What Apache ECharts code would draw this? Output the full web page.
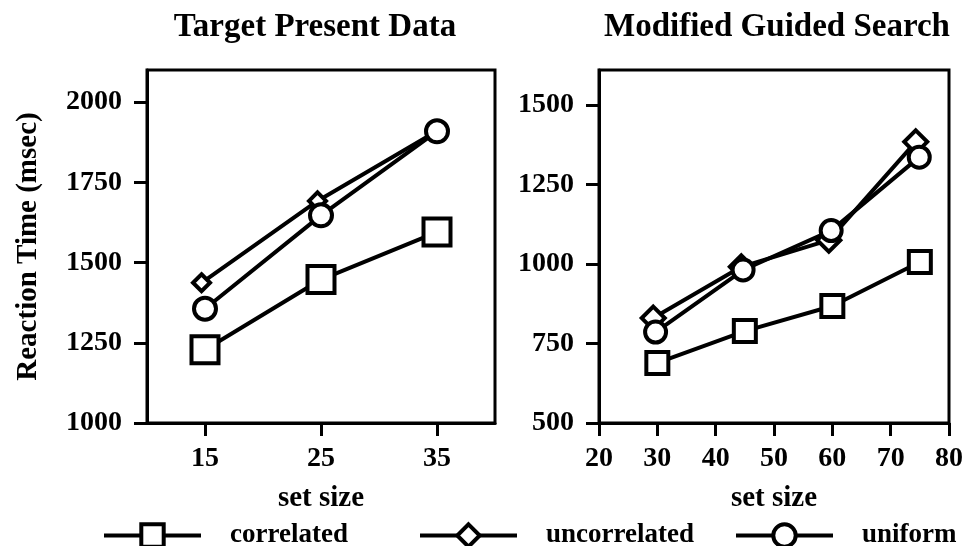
<!DOCTYPE html>
<html>
<head>
<meta charset="utf-8">
<script src="https://cdn.jsdelivr.net/npm/echarts@6/dist/echarts.min.js"></script>
<style>
html,body{margin:0;padding:0;background:#fff;}
#chart{width:966px;height:546px;}
</style>
</head>
<body>
<div id="chart"></div>
<script>
// ---- Data ----
const seriesNames = ['correlated', 'uncorrelated', 'uniform'];

// Left panel: Target Present Data
const leftTicksX = [15, 25, 35];
const leftTicksY = [1000, 1250, 1500, 1750, 2000];
const leftCorrelatedX = [15, 25, 35];
const leftCorrelatedY = [1228, 1447, 1595];
const leftUncorrelatedX = [14.7, 24.7, 35];
const leftUncorrelatedY = [1437, 1692, 1910];
const leftUniformX = [15, 25, 35];
const leftUniformY = [1356, 1647, 1909];

// Right panel: Modified Guided Search
const rightTicksY = [500, 750, 1000, 1250, 1500];
const rightCorrelatedX = [30, 45, 60, 75];
const rightCorrelatedY = [689, 789, 868, 1006];
const rightUncorrelatedX = [29.3, 44.4, 59.4, 74.3];
const rightUncorrelatedY = [830, 991, 1075, 1384];
const rightUniformX = [29.7, 44.7, 59.8, 74.9];
const rightUniformY = [786, 981, 1105, 1336];

const titles = ['Target Present Data', 'Modified Guided Search'];
const xName = 'set size';
const yName = 'Reaction Time (msec)';

// ---- Helpers ----
const FONT = 'Liberation Serif';
const zip = (xs, ys) => xs.map((x, i) => [x, ys[i]]);
const black = '#000';
const plain = v => String(v);

function axisCommon() {
  return {
    axisLine: { show: true, lineStyle: { color: black, width: 3 } },
    axisTick: { show: true, inside: false, length: 13, lineStyle: { color: black, width: 3 } },
    splitLine: { show: false },
    axisLabel: { color: black, fontFamily: FONT, fontWeight: 'bold', fontSize: 28, formatter: plain }
  };
}

function mkX(grid, min, max, opts) {
  const c = axisCommon();
  return Object.assign({
    type: 'value', gridIndex: grid, min: min, max: max,
    name: xName, nameLocation: 'middle', nameGap: 61,
    nameTextStyle: { color: black, fontFamily: FONT, fontWeight: 'bold', fontSize: 29 },
    axisLine: c.axisLine, splitLine: c.splitLine
  }, opts(c));
}

function mkY(grid, min, max, ticks, withName) {
  const c = axisCommon();
  const y = {
    type: 'value', gridIndex: grid, min: min, max: max,
    axisLine: c.axisLine, splitLine: c.splitLine,
    axisTick: Object.assign({}, c.axisTick, { customValues: ticks }),
    axisLabel: Object.assign({}, c.axisLabel, { customValues: ticks, margin: 25 })
  };
  if (withName) {
    y.name = yName;
    y.nameLocation = 'middle';
    y.nameGap = 104;
    y.nameTextStyle = { color: black, fontFamily: FONT, fontWeight: 'bold', fontSize: 29 };
  }
  return y;
}

const symbols = { correlated: 'rect', uncorrelated: 'diamond', uniform: 'circle' };

function mkSeries(name, grid, data, size) {
  return {
    name: name, type: 'line', xAxisIndex: grid, yAxisIndex: grid,
    data: data, symbol: symbols[name], symbolSize: size,
    showAllSymbol: true, animation: false,
    lineStyle: { color: black, width: 4 },
    itemStyle: { color: '#fff', borderColor: black, borderWidth: 4 },
    z: name === 'correlated' ? 3 : 2
  };
}

function mkLegend(name, left) {
  const iconH = 28;
  return {
    data: [name], left: left, top: 536 - iconH / 2, orient: 'horizontal',
    padding: 0,
    itemWidth: 97, itemHeight: iconH,
    lineStyle: { color: black, width: 4 },
    itemStyle: { color: '#fff', borderColor: black, borderWidth: 4 },
    textStyle: { color: black, fontFamily: FONT, fontWeight: 'bold', fontSize: 27, padding: [0, 0, 0, 24] },
    selectedMode: false
  };
}

const chart = echarts.init(document.getElementById('chart'), null, { renderer: 'canvas' });
chart.setOption({
  backgroundColor: '#fff',
  animation: false,
  title: [
    { text: titles[0], left: 310, top: 6, textAlign: 'center',
      textStyle: { color: black, fontFamily: FONT, fontWeight: 'bold', fontSize: 33 } },
    { text: titles[1], left: 772, top: 6, textAlign: 'center',
      textStyle: { color: black, fontFamily: FONT, fontWeight: 'bold', fontSize: 33 } }
  ],
  grid: [
    { left: 147, right: 471, top: 70, bottom: 123, show: true, borderColor: black, borderWidth: 3, backgroundColor: 'transparent' },
    { left: 599, right: 14, top: 70, bottom: 123, show: true, borderColor: black, borderWidth: 3, backgroundColor: 'transparent' }
  ],
  xAxis: [
    mkX(0, 10, 40, c => ({
      axisTick: Object.assign({}, c.axisTick, { customValues: leftTicksX }),
      axisLabel: Object.assign({}, c.axisLabel, { customValues: leftTicksX, margin: 22 })
    })),
    mkX(1, 20, 80, c => ({
      interval: 10,
      axisTick: c.axisTick,
      axisLabel: Object.assign({}, c.axisLabel, { margin: 22, showMinLabel: true, showMaxLabel: true })
    }))
  ],
  yAxis: [
    mkY(0, 1000, 2100, leftTicksY, true),
    mkY(1, 500, 1610, rightTicksY, false)
  ],
  legend: [
    mkLegend('correlated', 102),
    mkLegend('uncorrelated', 418),
    mkLegend('uniform', 734)
  ],
  series: [
    mkSeries('correlated', 0, zip(leftCorrelatedX, leftCorrelatedY), 27),
    mkSeries('uncorrelated', 0, zip(leftUncorrelatedX, leftUncorrelatedY), 17),
    mkSeries('uniform', 0, zip(leftUniformX, leftUniformY), 22),
    mkSeries('correlated', 1, zip(rightCorrelatedX, rightCorrelatedY), 22),
    mkSeries('uncorrelated', 1, zip(rightUncorrelatedX, rightUncorrelatedY), 23),
    mkSeries('uniform', 1, zip(rightUniformX, rightUniformY), 21)
  ]
});
</script>
</body>
</html>
